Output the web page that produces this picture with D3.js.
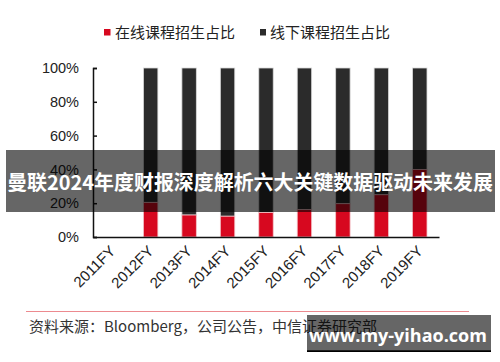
<!DOCTYPE html>
<html>
<head>
<meta charset="utf-8">
<script src="https://cdn.jsdelivr.net/npm/d3@7"></script>
<style>
  body { margin: 0; background: #fff; }
  svg { display: block; }
</style>
</head>
<body>
<div id="chart"></div>
<script>
// chart data
const years = ["2011FY", "2012FY", "2013FY", "2014FY", "2015FY", "2016FY", "2017FY", "2018FY", "2019FY"];
const onlineShare = [null, 20.5, 13, 12.3, 14.5, 16.2, 19.7, 25, 40];
const yTicks = [0, 20, 40, 60, 80, 100];
const seriesNames = ["在线课程招生占比", "线下课程招生占比"];
const bannerText = "曼联2024年度财报深度解析六大关键数据驱动未来发展";
const sourceText = "资料来源：Bloomberg，公司公告，中信证券研究部";
const siteText = "www.my-yihao.com";

const width = 500, height = 362;
const margin = { top: 68, right: 61, bottom: 125, left: 93 };
const colors = ["#d7081f", "#2b2b2b"];
const latin = "'Liberation Sans', Arial, sans-serif";
const cjk = "'Noto Sans CJK SC', sans-serif";

const svg = d3.select("#chart").append("svg")
  .attr("width", width)
  .attr("height", height);

// scales
const x = d3.scaleBand()
  .domain(years)
  .range([margin.left, width - margin.right])
  .paddingInner(0.625)
  .paddingOuter(0.3125);

const y = d3.scaleLinear()
  .domain([0, 100])
  .range([height - margin.bottom, margin.top]);

// stacked bars: online (red) at bottom, offline (dark) on top
const rows = years.map((yr, i) => ({ year: yr, online: onlineShare[i] }))
  .filter(d => d.online != null);

const bars = svg.append("g");
bars.selectAll("rect.off").data(rows).join("rect")
  .attr("class", "off")
  .attr("x", d => x(d.year))
  .attr("width", x.bandwidth())
  .attr("y", y(100))
  .attr("height", d => y(d.online) - y(100))
  .attr("fill", colors[1])
  .attr("stroke", "#d9d9d9")
  .attr("stroke-width", 0.8);

bars.selectAll("rect.on").data(rows).join("rect")
  .attr("class", "on")
  .attr("x", d => x(d.year))
  .attr("width", x.bandwidth())
  .attr("y", d => y(d.online))
  .attr("height", d => y(0) - y(d.online))
  .attr("fill", colors[0])
  .attr("stroke", "#f2c4c8")
  .attr("stroke-width", 0.8);

// y axis, ticks pointing inward
const yAxis = svg.append("g")
  .attr("transform", `translate(${margin.left},0)`)
  .call(d3.axisLeft(y).tickValues(yTicks).tickFormat(d => d + "%").tickSize(-4).tickPadding(14));
yAxis.select(".domain").attr("stroke", "#111").attr("stroke-width", 1.5);
yAxis.selectAll(".tick line").attr("stroke", "#111").attr("stroke-width", 1.5);
yAxis.selectAll("text")
  .attr("font-family", latin)
  .attr("font-size", 14.5)
  .attr("fill", "#222");

// x axis
const xAxis = svg.append("g")
  .attr("transform", `translate(0,${y(0)})`)
  .call(d3.axisBottom(x).tickSize(0).tickPadding(0).tickSizeOuter(0));
xAxis.select(".domain").attr("stroke", "#111").attr("stroke-width", 1.5);
xAxis.selectAll("text")
  .attr("font-family", latin)
  .attr("font-size", 15)
  .attr("fill", "#222")
  .attr("text-anchor", "end")
  .attr("dy", 0)
  .attr("transform", "translate(4,15) rotate(-45)");

// legend
const legend = svg.append("g");
const legendX = [104, 260];
seriesNames.forEach((name, i) => {
  legend.append("rect")
    .attr("x", legendX[i])
    .attr("y", 29)
    .attr("width", i === 0 ? 6.5 : 6)
    .attr("height", 6.5)
    .attr("fill", colors[i]);
  legend.append("text")
    .attr("x", legendX[i] + (i === 0 ? 11 : 10))
    .attr("y", 37.5)
    .attr("font-family", cjk)
    .attr("font-size", 15)
    .attr("fill", "#222")
    .text(name);
});

// source note
svg.append("line")
  .attr("x1", 26).attr("x2", 469)
  .attr("y1", 311.5).attr("y2", 311.5)
  .attr("stroke", "#ec8a8f")
  .attr("stroke-width", 1.2);
svg.append("text")
  .attr("x", 29)
  .attr("y", 332)
  .attr("font-family", cjk)
  .attr("font-size", 15)
  .attr("fill", "#333")
  .text(sourceText);

// banner overlay
svg.append("rect")
  .attr("x", 6).attr("y", 150)
  .attr("width", 489).attr("height", 62)
  .attr("fill", "#000")
  .attr("fill-opacity", 0.6);
const banner = svg.append("text")
  .attr("x", 250)
  .attr("y", 190)
  .attr("text-anchor", "middle")
  .attr("font-family", cjk)
  .attr("font-weight", "bold")
  .attr("font-size", 20)
  .attr("fill", "#fff")
  .text(bannerText);
// fit the banner title to ~486px wide
const bw = banner.node().getComputedTextLength();
banner.attr("font-size", 20 * 486 / bw);

// site watermark
svg.append("rect")
  .attr("x", 307).attr("y", 315)
  .attr("width", 184).attr("height", 37)
  .attr("fill", "#000")
  .attr("fill-opacity", 0.6);
svg.append("rect")
  .attr("x", 307).attr("y", 350.3)
  .attr("width", 184).attr("height", 1.7)
  .attr("fill", "#000");
svg.append("text")
  .attr("x", 398)
  .attr("y", 341.5)
  .attr("text-anchor", "middle")
  .attr("font-family", "'Open Sans', sans-serif")
  .attr("font-weight", "bold")
  .attr("font-size", 18)
  .attr("fill", "#fff")
  .text(siteText);
</script>
</body>
</html>
